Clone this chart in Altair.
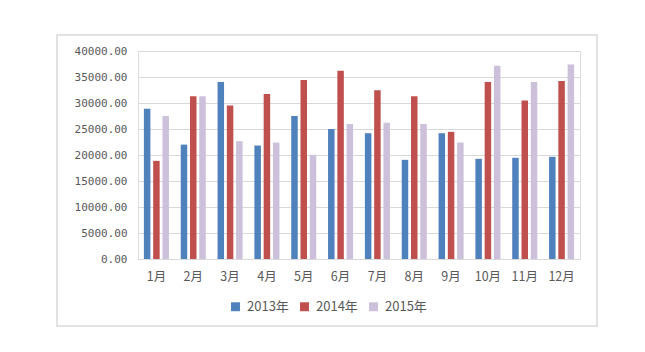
import altair as alt
import pandas as pd

months = ["1月", "2月", "3月", "4月", "5月", "6月", "7月", "8月", "9月", "10月", "11月", "12月"]
series = ["2013年", "2014年", "2015年"]
v2013 = [28900, 22000, 34050, 21820, 27520, 25020, 24190, 19070, 24190, 19260, 19460, 19650]
v2014 = [18880, 31300, 29500, 31740, 34430, 36220, 32450, 31300, 24450, 34050, 30460, 34240]
v2015 = [27520, 31300, 22650, 22400, 20030, 25980, 26180, 25980, 22400, 37180, 34050, 37380]
colors = ["#4F81BD", "#C0504D", "#CCC0DA"]

rows = []
for s, vals in zip(series, [v2013, v2014, v2015]):
    for m, v in zip(months, vals):
        rows.append({"month": m, "series": s, "value": v})
df = pd.DataFrame(rows)

bars = alt.Chart(df).mark_bar().encode(
    x=alt.X("month:N", sort=months,
            scale=alt.Scale(paddingInner=0.32, paddingOuter=0.16),
            axis=alt.Axis(title=None, labelAngle=0, ticks=False, domain=False,
                          labelFont="Noto Sans CJK SC", labelFontSize=12.5,
                          labelColor="#595959", labelPadding=11)),
    xOffset=alt.XOffset("series:N", sort=series,
                        scale=alt.Scale(paddingInner=0.3)),
    y=alt.Y("value:Q", scale=alt.Scale(domain=[0, 40000]),
            axis=alt.Axis(title=None, format=".2f", values=list(range(0, 40001, 5000)),
                          ticks=False, domain=False, labelFont="DejaVu Sans Mono",
                          labelFontSize=11, labelColor="#595959", labelPadding=11,
                          gridColor="#D9D9D9", gridWidth=1)),
    color=alt.Color("series:N", sort=series,
                    scale=alt.Scale(domain=series, range=colors),
                    legend=alt.Legend(title=None, orient="none", direction="horizontal",
                                      legendX=91, legendY=249, symbolType="square",
                                      symbolSize=80, symbolStrokeWidth=0,
                                      labelFont="Noto Sans CJK SC", labelFontSize=13,
                                      labelColor="#595959", columnPadding=9,
                                      labelOffset=5)),
)

border = alt.Chart(pd.DataFrame({"a": [0]})).mark_rect(
    fill=None, stroke="#D9D9D9", strokeWidth=1.5
).encode(
    x=alt.value(-81), x2=alt.value(459), y=alt.value(-16), y2=alt.value(275)
)

chart = alt.layer(border, bars).properties(
    width=442, height=208,
    autosize=alt.AutoSizeParams(type="none"),
    padding={"left": 138, "top": 51, "right": 65, "bottom": 93},
).configure_view(stroke=None).configure(background="white")

chart.save("out.html", embed_options={"renderer": "svg", "actions": False})
